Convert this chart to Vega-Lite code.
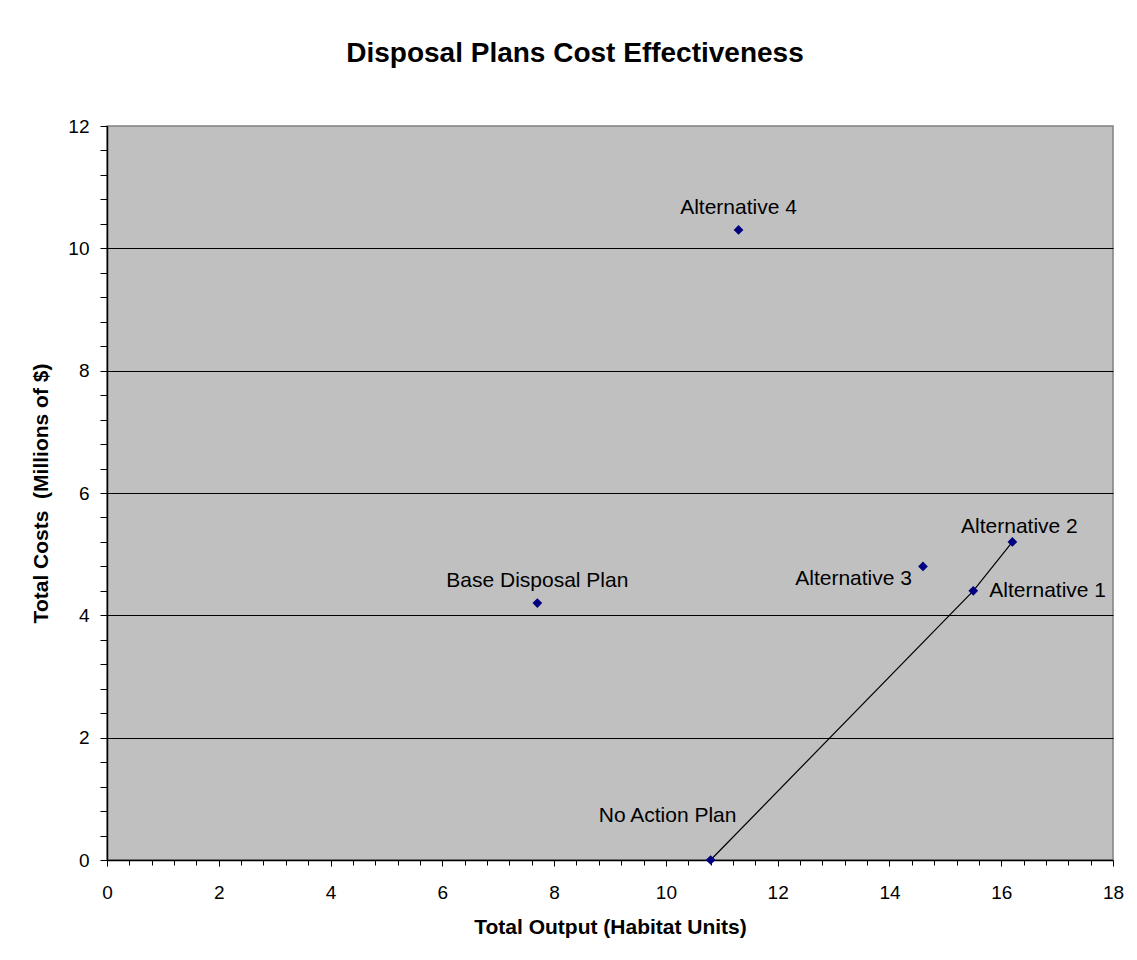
{
  "$schema": "https://vega.github.io/schema/vega-lite/v6.json",
  "autosize": {"type": "none"},
  "width": 1006,
  "height": 734,
  "padding": {"left": 107, "top": 126, "right": 24, "bottom": 100},
  "background": "white",
  "config": {
    "font": "Liberation Sans",
    "view": {"fill": "#C0C0C0", "stroke": "#808080", "strokeWidth": 1.5}
  },
  "title": {
    "text": "Disposal Plans Cost Effectiveness",
    "fontSize": 28,
    "fontWeight": "bold",
    "font": "Liberation Sans",
    "color": "black",
    "anchor": "middle",
    "baseline": "alphabetic",
    "offset": 27,
    "dx": -35
  },
  "datasets": {
    "plans": [
      {"plan": "No Action Plan", "output": 10.8, "cost": 0.0, "frontier": 1, "order": 1},
      {"plan": "Base Disposal Plan", "output": 7.7, "cost": 4.2, "frontier": 0, "order": 0},
      {"plan": "Alternative 1", "output": 15.5, "cost": 4.4, "frontier": 1, "order": 2},
      {"plan": "Alternative 2", "output": 16.2, "cost": 5.2, "frontier": 1, "order": 3},
      {"plan": "Alternative 3", "output": 14.6, "cost": 4.8, "frontier": 0, "order": 0},
      {"plan": "Alternative 4", "output": 11.3, "cost": 10.3, "frontier": 0, "order": 0}
    ]
  },
  "data": {"name": "plans"},
  "encoding": {
    "x": {
      "field": "output",
      "type": "quantitative",
      "scale": {"domain": [0, 18], "nice": false, "zero": false},
      "axis": {
        "title": "Total Output (Habitat Units)",
        "titleFontSize": 21,
        "titleFontWeight": "bold",
        "titleColor": "black",
        "titlePadding": 14,
        "values": [0,0.4,0.8,1.2,1.6,2,2.4,2.8,3.2,3.6,4,4.4,4.8,5.2,5.6,6,6.4,6.8,7.2,7.6,8,8.4,8.8,9.2,9.6,10,10.4,10.8,11.2,11.6,12,12.4,12.8,13.2,13.6,14,14.4,14.8,15.2,15.6,16,16.4,16.8,17.2,17.6,18],
        "labelExpr": "datum.value % 2 === 0 ? format(datum.value, 'd') : ''",
        "labelFontSize": 19,
        "labelColor": "black",
        "labelPadding": 17,
        "labelFlush": false,
        "labelOverlap": false,
        "tickSize": {"condition": {"test": "datum.value % 2 === 0", "value": 6}, "value": 5},
        "tickColor": "black",
        "domainColor": "black",
        "domainWidth": 1.5,
        "grid": false
      }
    },
    "y": {
      "field": "cost",
      "type": "quantitative",
      "scale": {"domain": [0, 12], "nice": false},
      "axis": {
        "title": "Total Costs \u00a0(Millions of $)",
        "titleFontSize": 21,
        "titleFontWeight": "bold",
        "titleColor": "black",
        "titlePadding": 16,
        "values": [0,0.4,0.8,1.2,1.6,2,2.4,2.8,3.2,3.6,4,4.4,4.8,5.2,5.6,6,6.4,6.8,7.2,7.6,8,8.4,8.8,9.2,9.6,10,10.4,10.8,11.2,11.6,12],
        "labelExpr": "datum.value % 2 === 0 ? format(datum.value, 'd') : ''",
        "labelFontSize": 19,
        "labelColor": "black",
        "labelPadding": 11,
        "labelFlush": false,
        "labelOverlap": false,
        "tickSize": 7,
        "tickColor": "black",
        "domainColor": "black",
        "domainWidth": 1.5,
        "grid": true,
        "gridColor": "black",
        "gridWidth": 1,
        "gridOpacity": {"condition": {"test": "datum.value % 2 === 0 && datum.value > 0 && datum.value < 12", "value": 1}, "value": 0}
      }
    }
  },
  "layer": [
    {
      "transform": [{"filter": "datum.frontier === 1"}],
      "mark": {"type": "line", "color": "black", "strokeWidth": 1.2},
      "encoding": {"order": {"field": "order", "type": "quantitative"}}
    },
    {
      "mark": {"type": "point", "shape": "diamond", "filled": true, "size": 95, "color": "#000080", "opacity": 1}
    },
    {
      "transform": [{"filter": "datum.plan === 'Alternative 4' || datum.plan === 'Base Disposal Plan'"}],
      "mark": {"type": "text", "fontSize": 21, "color": "black", "align": "center", "baseline": "middle", "dy": -22},
      "encoding": {"text": {"field": "plan"}}
    },
    {
      "transform": [{"filter": "datum.plan === 'Alternative 2'"}],
      "mark": {"type": "text", "fontSize": 21, "color": "black", "align": "center", "baseline": "middle", "dy": -15, "dx": 7},
      "encoding": {"text": {"field": "plan"}}
    },
    {
      "transform": [{"filter": "datum.plan === 'No Action Plan'"}],
      "mark": {"type": "text", "fontSize": 21, "color": "black", "align": "center", "baseline": "middle", "dy": -44, "dx": -43},
      "encoding": {"text": {"field": "plan"}}
    },
    {
      "transform": [{"filter": "datum.plan === 'Alternative 3'"}],
      "mark": {"type": "text", "fontSize": 21, "color": "black", "align": "right", "baseline": "middle", "dy": 13, "dx": -11},
      "encoding": {"text": {"field": "plan"}}
    },
    {
      "transform": [{"filter": "datum.plan === 'Alternative 1'"}],
      "mark": {"type": "text", "fontSize": 21, "color": "black", "align": "left", "baseline": "middle", "dy": 0, "dx": 16},
      "encoding": {"text": {"field": "plan"}}
    }
  ]
}
